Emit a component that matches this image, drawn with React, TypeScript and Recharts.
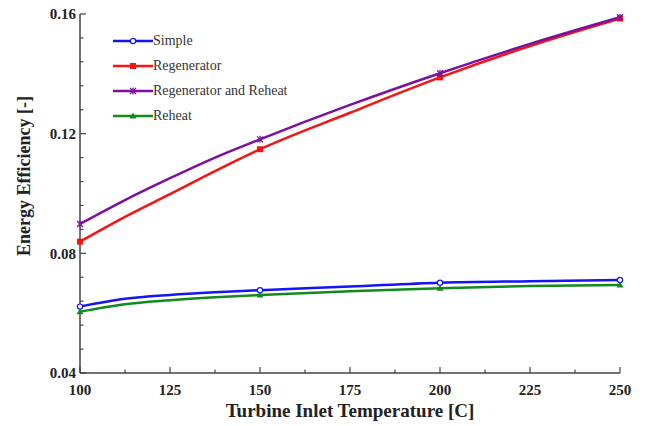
import React from "react";
import {
  LineChart,
  Line,
  XAxis,
  YAxis,
  Legend,
} from "recharts";

// turbine inlet temperature [C]
const temps = [100, 112.5, 125, 137.5, 150, 175, 200, 225, 250];
const simple = [0.0622, 0.0648, 0.0661, 0.067, 0.0677, 0.0689, 0.0702, 0.0707, 0.0711];
const regenerator = [0.0839, 0.0922, 0.0998, 0.1075, 0.1148, 0.127, 0.1388, 0.1493, 0.1585];
const regenReheat = [0.0898, 0.0978, 0.1051, 0.112, 0.1181, 0.1296, 0.1402, 0.15, 0.1589];
const reheat = [0.0605, 0.063, 0.0643, 0.0653, 0.0661, 0.0673, 0.0683, 0.0691, 0.0694];

// temps where the original draws a marker
const markTemps = [100, 150, 200, 250];

const xTicks = [100, 112.5, 125, 137.5, 150, 162.5, 175, 187.5, 200, 212.5, 225, 237.5, 250];
const xLabels = [100, 125, 150, 175, 200, 225, 250];
const yTicks = [
  0.04, 0.048, 0.056, 0.064, 0.072, 0.08, 0.088, 0.096, 0.104, 0.112, 0.12, 0.128,
  0.136, 0.144, 0.152, 0.16,
];
const yLabels = ["0.04", "0.08", "0.12", "0.16"];

const series = [
  { key: "simple", name: "Simple", color: "#1414f5", shape: "circle" },
  { key: "regenerator", name: "Regenerator", color: "#f51414", shape: "square" },
  { key: "regenReheat", name: "Regenerator and Reheat", color: "#7a0fa0", shape: "star" },
  { key: "reheat", name: "Reheat", color: "#138a1e", shape: "triangle" },
];

const data = temps.map((t, i) => ({
  t,
  simple: simple[i],
  regenerator: regenerator[i],
  regenReheat: regenReheat[i],
  reheat: reheat[i],
}));

const FONT = "'Liberation Serif', 'Times New Roman', serif";
const AXIS = "#444";

function Marker({ shape, color, cx, cy }: any) {
  if (shape === "circle")
    return <circle cx={cx} cy={cy} r={2.6} fill="#fff" stroke={color} strokeWidth={1.2} />;
  if (shape === "square")
    return <rect x={cx - 3} y={cy - 3} width={6} height={6} fill={color} />;
  if (shape === "triangle")
    return (
      <polygon
        points={`${cx},${cy - 3.5} ${cx + 3.5},${cy + 2.5} ${cx - 3.5},${cy + 2.5}`}
        fill={color}
      />
    );
  return (
    <g stroke={color} strokeWidth={1.3}>
      <line x1={cx - 3} y1={cy - 3} x2={cx + 3} y2={cy + 3} />
      <line x1={cx - 3} y1={cy + 3} x2={cx + 3} y2={cy - 3} />
      <line x1={cx} y1={cy - 3.5} x2={cx} y2={cy + 3.5} />
    </g>
  );
}

const makeDot = (shape: string, color: string) => (props: any) => {
  const { cx, cy, payload, index } = props;
  if (!markTemps.includes(payload.t)) return <g key={index} />;
  return (
    <g key={index}>
      <Marker shape={shape} color={color} cx={cx} cy={cy} />
    </g>
  );
};

const isMajorY = (v: number) => yLabels.includes(v.toFixed(2)) && Math.abs(v * 100 - Math.round(v * 100)) < 1e-6;

const BottomTick = ({ x, y, payload }: any) => {
  const major = xLabels.includes(payload.value);
  return (
    <g>
      <line x1={x} y1={y} x2={x} y2={y - (major ? 6 : 3.5)} stroke={AXIS} strokeWidth={1.2} />
      {major && (
        <text x={x} y={y + 22} textAnchor="middle" fontFamily={FONT} fontWeight="bold" fontSize={15} fill="#222">
          {payload.value}
        </text>
      )}
    </g>
  );
};

const TopTick = ({ x, y, payload }: any) => {
  const major = xLabels.includes(payload.value);
  return <line x1={x} y1={y} x2={x} y2={y + (major ? 6 : 3.5)} stroke={AXIS} strokeWidth={1.2} />;
};

const LeftTick = ({ x, y, payload }: any) => {
  const major = isMajorY(payload.value);
  return (
    <g>
      <line x1={x} y1={y} x2={x + (major ? 6 : 3.5)} y2={y} stroke={AXIS} strokeWidth={1.2} />
      {major && (
        <text x={x - 4} y={y} dy="0.35em" textAnchor="end" fontFamily={FONT} fontWeight="bold" fontSize={15} fill="#222">
          {payload.value.toFixed(2)}
        </text>
      )}
    </g>
  );
};

const RightTick = ({ x, y, payload }: any) => {
  const major = isMajorY(payload.value);
  return <line x1={x} y1={y} x2={x - (major ? 6 : 3.5)} y2={y} stroke={AXIS} strokeWidth={1.2} />;
};

const YTitle = () => (
  <text
    x={30}
    y={176}
    transform="rotate(-90 30 176)"
    textAnchor="middle"
    fontFamily={FONT}
    fontWeight="bold"
    fontSize={18}
    fill="#222"
  >
    Energy Efficiency [-]
  </text>
);

const LegendBox = () => (
  <div style={{ fontFamily: FONT, fontSize: 14, color: "#333" }}>
    {series.map((s) => (
      <div key={s.key} style={{ display: "flex", alignItems: "center", height: 25 }}>
        <svg width={40} height={10}>
          <line x1={0} y1={5} x2={40} y2={5} stroke={s.color} strokeWidth={2.5} />
          <Marker shape={s.shape} color={s.color} cx={20} cy={5} />
        </svg>
        <span>{s.name}</span>
      </div>
    ))}
  </div>
);

export default function App() {
  return (
    <div style={{ position: "absolute", left: 0, top: 0, width: 645, height: 426, background: "#fff" }}>
      <LineChart
        width={645}
        height={426}
        data={data}
        margin={{ top: 14, right: 25, bottom: 0, left: 0 }}
      >
        <XAxis
          dataKey="t"
          type="number"
          domain={[100, 250]}
          ticks={xTicks}
          interval={0}
          height={53}
          tickSize={0}
          tickMargin={0}
          tickLine={false}
          tick={<BottomTick />}
          axisLine={{ stroke: AXIS, strokeWidth: 1.5 }}
          label={{
            value: "Turbine Inlet Temperature [C]",
            position: "insideBottom",
            offset: 9,
            style: { fontFamily: FONT, fontWeight: "bold", fontSize: 19, fill: "#222" },
          }}
        />
        <XAxis
          xAxisId="top"
          dataKey="t"
          type="number"
          orientation="top"
          domain={[100, 250]}
          ticks={xTicks}
          interval={0}
          height={0}
          tickSize={0}
          tickMargin={0}
          tickLine={false}
          tick={<TopTick />}
          axisLine={{ stroke: AXIS, strokeWidth: 1.5 }}
        />
        <YAxis
          type="number"
          domain={[0.04, 0.16]}
          ticks={yTicks}
          interval={0}
          width={80}
          tickSize={0}
          tickMargin={0}
          tickLine={false}
          tick={<LeftTick />}
          axisLine={{ stroke: AXIS, strokeWidth: 1.5 }}
          label={{ content: <YTitle /> }}
        />
        <YAxis
          yAxisId="right"
          type="number"
          orientation="right"
          domain={[0.04, 0.16]}
          ticks={yTicks}
          interval={0}
          width={0}
          tickSize={0}
          tickMargin={0}
          tickLine={false}
          tick={<RightTick />}
          axisLine={{ stroke: AXIS, strokeWidth: 1.5 }}
        />
        <Legend
          layout="vertical"
          align="center"
          verticalAlign="middle"
          content={<LegendBox />}
          wrapperStyle={{ left: 113, top: 28, width: 240, height: 100 }}
        />
        {series.map((s) => (
          <Line
            key={s.key}
            dataKey={s.key}
            name={s.name}
            type="monotone"
            stroke={s.color}
            strokeWidth={2.5}
            dot={makeDot(s.shape, s.color)}
            activeDot={false}
            isAnimationActive={false}
          />
        ))}
      </LineChart>
    </div>
  );
}
